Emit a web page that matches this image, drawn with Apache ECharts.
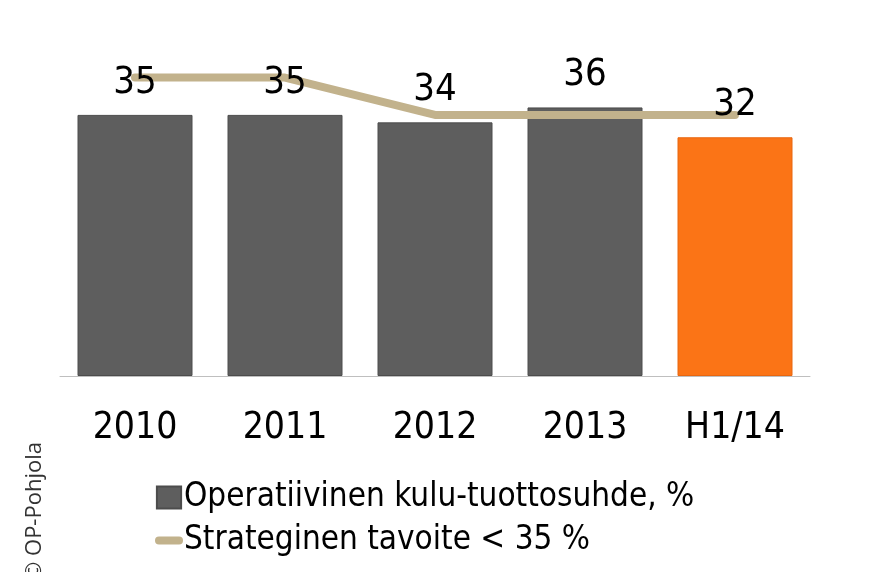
<!DOCTYPE html>
<html>
<head>
<meta charset="utf-8">
<script src="https://cdn.jsdelivr.net/npm/echarts@6/dist/echarts.min.js"></script>
<style>html,body{margin:0;padding:0;background:#fff;}#c{width:880px;height:572px;}</style>
</head>
<body>
<div id="c"></div>
<script>
var categories = ['2010', '2011', '2012', '2013', 'H1/14'];
var ratioValues = [35, 35, 34, 36, 32];
var targetValues = [40, 40, 35, 35, 35];
var ratioName = 'Operatiivinen kulu-tuottosuhde, %';
var targetName = 'Strateginen tavoite < 35 %';

var FONT = "'Liberation Sans Narrow', 'DejaVu Sans Condensed', 'Liberation Sans', sans-serif";
var chart = echarts.init(document.getElementById('c'), null, {renderer: 'canvas'});

var barData = ratioValues.map(function (v, i) {
  return i === ratioValues.length - 1
    ? {value: v, itemStyle: {color: '#fb7416', borderColor: '#e8660f'}}
    : v;
});

chart.setOption({
  animation: false,
  backgroundColor: '#fff',
  grid: {left: 60, right: 70, top: 3, bottom: 196, containLabel: false},
  xAxis: {
    type: 'category',
    data: categories,
    axisLine: {lineStyle: {color: '#bfbfbf', width: 1}},
    axisTick: {show: false},
    axisLabel: {color: '#000', fontSize: 37, fontFamily: FONT, margin: 34, interval: 0}
  },
  yAxis: {type: 'value', min: 0, max: 50, show: false, splitLine: {show: false}},
  legend: {
    orient: 'vertical',
    left: 150,
    top: 476,
    itemWidth: 28,
    itemHeight: 22,
    itemGap: 10,
    symbolKeepAspect: true,
    textStyle: {color: '#000', fontSize: 33, fontFamily: FONT, padding: [0, 0, 0, -4]},
    data: [
      {name: ratioName, icon: 'path://M0,0h22v20h-22z', itemStyle: {color: '#5e5e5e'}},
      {name: targetName, icon: 'path://M4,0h20a4,4 0 0 1 0,8h-20a4,4 0 0 1 0,-8z', itemStyle: {color: '#c2b28c'}}
    ]
  },
  graphic: [{
    type: 'text',
    x: 24,
    y: 580,
    rotation: Math.PI / 2,
    style: {text: '\u00a9 OP-Pohjola', fontSize: 22, fontFamily: "'Open Sans', 'Noto Sans', sans-serif", fill: '#333', textAlign: 'left', textVerticalAlign: 'top'}
  }],
  series: [
    {
      name: ratioName,
      type: 'bar',
      z: 2,
      barWidth: 115,
      data: barData,
      itemStyle: {color: '#5e5e5e', borderColor: '#4c4c4c', borderWidth: 1}
    },
    {
      name: targetName,
      type: 'line',
      z: 3,
      data: targetValues,
      symbol: 'none',
      lineStyle: {color: '#c2b28c', width: 8, cap: 'round', join: 'round'},
      itemStyle: {color: '#c2b28c'}
    },
    {
      name: 'labels',
      type: 'bar',
      z: 4,
      barWidth: 115,
      barGap: '-100%',
      data: ratioValues,
      silent: true,
      itemStyle: {color: 'rgba(0,0,0,0)'},
      label: {show: true, position: 'top', distance: 13, color: '#000', fontSize: 38, fontFamily: FONT}
    }
  ]
});
</script>
</body>
</html>
